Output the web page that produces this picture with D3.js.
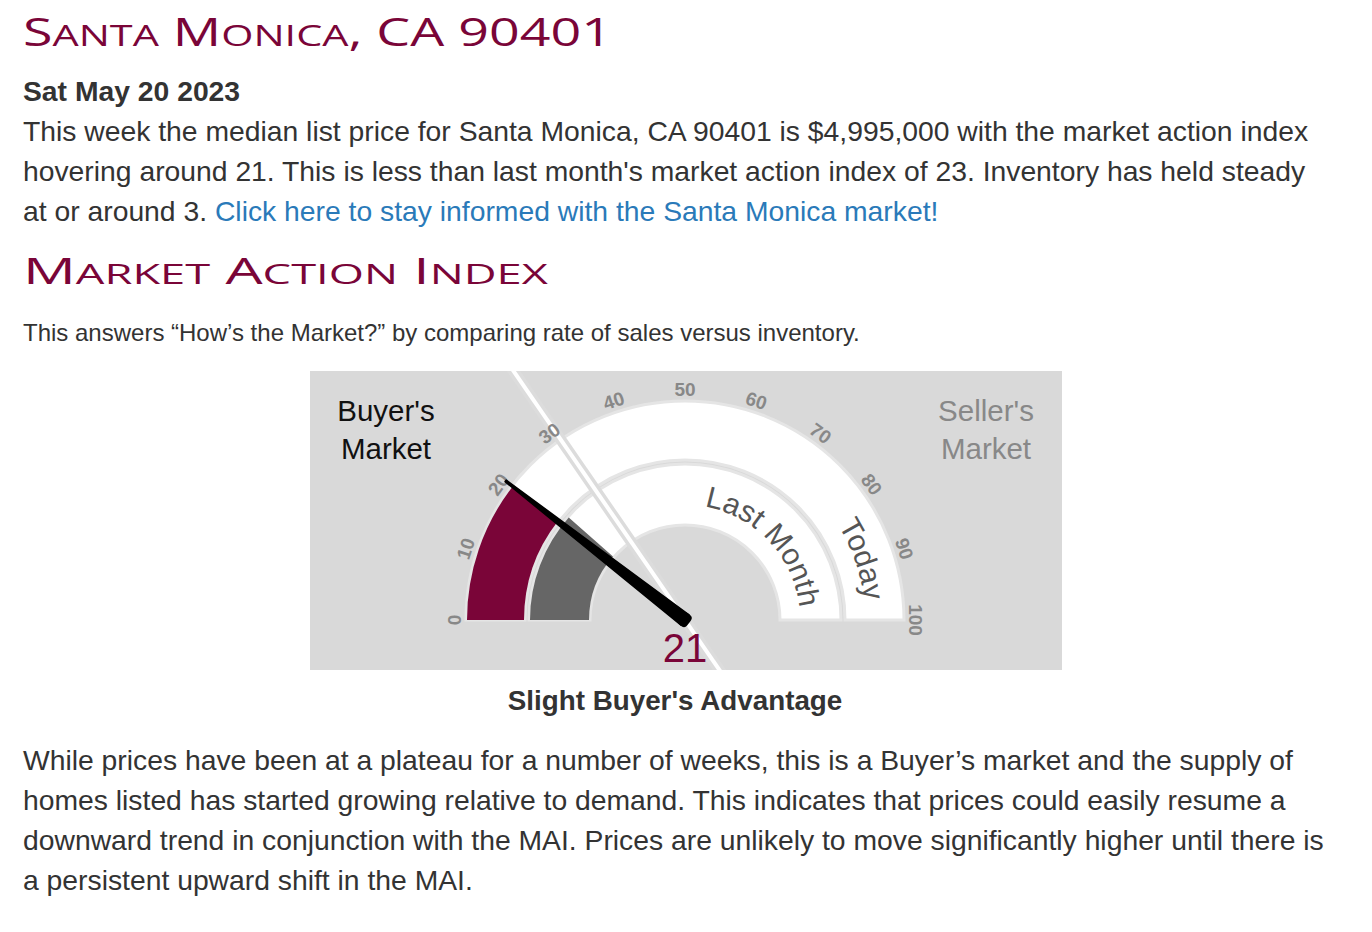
<!DOCTYPE html>
<html>
<head>
<meta charset="utf-8">
<script src="https://cdn.jsdelivr.net/npm/d3@7"></script>
<style>
  html, body { margin: 0; padding: 0; background: #fff; }
  svg { display: block; }
</style>
</head>
<body>
<svg id="page" width="1372" height="932"></svg>
<script>
// ---------------- DATA ----------------
const title = "Santa Monica, CA 90401";
const dateLabel = "Sat May 20 2023";
const introLines = [
  "This week the median list price for Santa Monica, CA 90401 is $4,995,000 with the market action index",
  "hovering around 21. This is less than last month's market action index of 23. Inventory has held steady",
  "at or around 3. "
];
const linkText = "Click here to stay informed with the Santa Monica market!";
const sectionTitle = "Market Action Index";
const subtitle = "This answers \u201cHow\u2019s the Market?\u201d by comparing rate of sales versus inventory.";
const outroLines = [
  "While prices have been at a plateau for a number of weeks, this is a Buyer\u2019s market and the supply of",
  "homes listed has started growing relative to demand. This indicates that prices could easily resume a",
  "downward trend in conjunction with the MAI. Prices are unlikely to move significantly higher until there is",
  "a persistent upward shift in the MAI."
];
const verdict = "Slight Buyer's Advantage";

const todayValue = 21;
const lastMonthValue = 23;
const dividerValue = 30.8;
const tickValues = [0, 10, 20, 30, 40, 50, 60, 70, 80, 90, 100];
const bandNames = ["Today", "Last Month"];
const buyerLabel = ["Buyer's", "Market"];
const sellerLabel = ["Seller's", "Market"];

// ---------------- LAYOUT ----------------
const svg = d3.select("#page");
const maroon = "#7a0538";
const textCol = "#333";
const bodyFont = "'Liberation Sans', Arial, Helvetica, sans-serif";
const bodySize = 28.3;

svg.append("rect").attr("width", 1372).attr("height", 932).attr("fill", "#fff");

function smallCapsHeading(x, y, str, fs, targetWidth) {
  const t = svg.append("text").attr("x", 0).attr("y", 0)
    .attr("fill", maroon).attr("font-family", "'Open Sans', sans-serif")
    .attr("font-weight", 400);
  str.split("").forEach(ch => {
    const isLower = ch !== ch.toUpperCase();
    t.append("tspan")
      .attr("font-size", isLower ? fs * 0.77 : fs)
      .text(ch.toUpperCase());
  });
  const w = t.node().getComputedTextLength();
  t.attr("transform", `translate(${x},${y}) scale(${targetWidth / w},1)`);
  return t;
}

smallCapsHeading(23, 46, title, 38, 589);

svg.append("text").attr("x", 23).attr("y", 101)
  .attr("fill", textCol).attr("font-family", bodyFont)
  .attr("font-weight", "bold").attr("font-size", bodySize).text(dateLabel);

introLines.forEach((line, i) => {
  const t = svg.append("text").attr("x", 23).attr("y", 141 + i * 40)
    .attr("fill", textCol).attr("font-family", bodyFont).attr("font-size", bodySize)
    .attr("xml:space", "preserve");
  t.append("tspan").text(line);
  if (i === introLines.length - 1) {
    t.append("tspan").attr("fill", "#2a7ab9").text(linkText);
  }
});

smallCapsHeading(23, 284, sectionTitle, 36, 525);

svg.append("text").attr("x", 23).attr("y", 341)
  .attr("fill", textCol).attr("font-family", bodyFont).attr("font-size", 24)
  .text(subtitle);

// ---------------- GAUGE ----------------
const panel = { x: 310, y: 371, w: 752, h: 299 };
const cx = 685, cy = 620;
const todayBand = [160, 219];
const lastBand = [95, 156];

const g = svg.append("g");
const defs = svg.append("defs");
defs.append("clipPath").attr("id", "panelClip")
  .append("rect").attr("x", panel.x).attr("y", panel.y).attr("width", panel.w).attr("height", panel.h);
g.append("rect").attr("x", panel.x).attr("y", panel.y).attr("width", panel.w).attr("height", panel.h)
  .attr("fill", "#d9d9d9");

const angle = d3.scaleLinear().domain([0, 100]).range([-Math.PI / 2, Math.PI / 2]);
const deg = v => angle(v) * 180 / Math.PI;

// layers in drawing order
const bandLayer = g.append("g").attr("transform", `translate(${cx},${cy})`);
const dividerLayer = g.append("g").attr("clip-path", "url(#panelClip)")
  .append("g").attr("transform", `translate(${cx},${cy})`);
const labelLayer = g.append("g").attr("transform", `translate(${cx},${cy})`);
const needleLayer = g.append("g").attr("transform", `translate(${cx},${cy})`);

const bands = [
  { name: bandNames[0], r: todayBand, value: todayValue, color: maroon },
  { name: bandNames[1], r: lastBand, value: lastMonthValue, color: "#666" }
];

// band backgrounds
bandLayer.selectAll("path.bg").data(bands).join("path").attr("class", "bg")
  .attr("d", d => d3.arc().innerRadius(d.r[0]).outerRadius(d.r[1])
    .startAngle(angle(0)).endAngle(angle(100))())
  .attr("fill", "#fff").attr("stroke", "#e5e5e5").attr("stroke-width", 3);

// value arcs
bandLayer.selectAll("path.val").data(bands).join("path").attr("class", "val")
  .attr("d", d => d3.arc().innerRadius(d.r[0] + 1).outerRadius(d.r[1] - 1)
    .startAngle(angle(0)).endAngle(angle(d.value))())
  .attr("fill", d => d.color);

// divider line through the gauge
const divider = dividerLayer.append("g").attr("transform", `rotate(${deg(dividerValue)})`);
divider.append("line").attr("x1", 0).attr("y1", -500).attr("x2", 0).attr("y2", 500)
  .attr("stroke", "#dcdcdc").attr("stroke-width", 11);
divider.append("line").attr("x1", 0).attr("y1", -500).attr("x2", 0).attr("y2", 500)
  .attr("stroke", "#fff").attr("stroke-width", 4);

// tick labels
labelLayer.selectAll("text.tick").data(tickValues).join("text").attr("class", "tick")
  .attr("transform", d => `rotate(${deg(d)}) translate(0,-224)`)
  .attr("text-anchor", "middle")
  .attr("font-family", bodyFont).attr("font-weight", "bold").attr("font-size", 19)
  .attr("fill", "#888").text(d => d);

// curved band labels
const labelRadius = { "Today": 180, "Last Month": 115 };
bands.forEach((b, i) => {
  const r = labelRadius[b.name];
  const p = d3.path();
  p.arc(0, 0, r, Math.PI, 2 * Math.PI);
  defs.append("path").attr("id", "bandPath" + i).attr("d", p.toString());
  labelLayer.append("text")
    .attr("font-family", bodyFont).attr("font-size", 30).attr("fill", "#555")
    .append("textPath").attr("href", "#bandPath" + i)
    .attr("startOffset", (angle(96.5) + Math.PI / 2) * r)
    .attr("text-anchor", "end")
    .text(b.name);
});

// needle
const needle = needleLayer.append("g").attr("transform", `rotate(${deg(todayValue)})`);
needle.append("path")
  .attr("d", "M-6.5,0 L-1,-227 L1,-227 L6.5,0 Z")
  .attr("fill", "#000").attr("stroke", "#000").attr("stroke-width", 1.5).attr("stroke-linejoin", "round");
needle.append("rect").attr("x", -7).attr("y", -6).attr("width", 14).attr("height", 11)
  .attr("rx", 4).attr("fill", "#000");

// value label
g.append("text").attr("x", cx).attr("y", 662).attr("text-anchor", "middle")
  .attr("font-family", bodyFont).attr("font-size", 40).attr("fill", maroon)
  .text(todayValue);

// market labels
[[buyerLabel, 386, "#111"], [sellerLabel, 986, "#888"]].forEach(([lines, x, col]) => {
  lines.forEach((s, i) => {
    g.append("text").attr("x", x).attr("y", 421 + i * 38).attr("text-anchor", "middle")
      .attr("font-family", bodyFont).attr("font-size", 29.5).attr("fill", col).text(s);
  });
});

// verdict
svg.append("text").attr("x", 675).attr("y", 710).attr("text-anchor", "middle")
  .attr("fill", textCol).attr("font-family", bodyFont).attr("font-weight", "bold")
  .attr("font-size", 27.8).text(verdict);

outroLines.forEach((line, i) => {
  svg.append("text").attr("x", 23).attr("y", 770 + i * 40)
    .attr("fill", textCol).attr("font-family", bodyFont).attr("font-size", bodySize)
    .text(line);
});
</script>
</body>
</html>
